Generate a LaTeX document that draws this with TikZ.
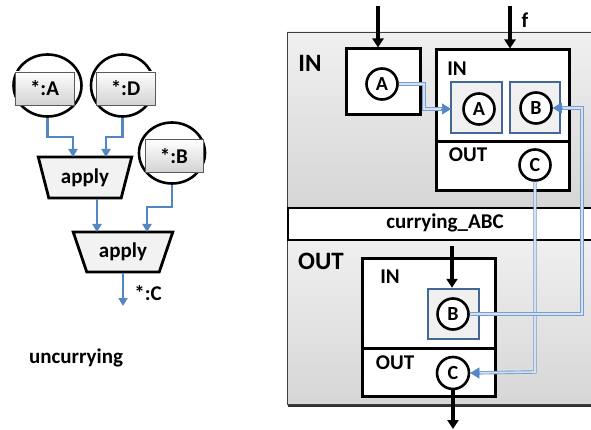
\documentclass[tikz,border=0pt]{standalone}
\usepackage{fontspec}
\setmainfont{Carlito}
\usetikzlibrary{arrows.meta,shapes.geometric,calc}
\definecolor{lineblue}{RGB}{84,134,196}
\definecolor{boxblue}{RGB}{68,104,150}
\begin{document}
\begin{tikzpicture}[x=1pt,y=-1pt,
  txt/.style={font=\bfseries\fontsize{21}{21}\selectfont, inner sep=0pt},
  bigtxt/.style={font=\bfseries\fontsize{25}{25}\selectfont, inner sep=0pt},
  ell/.style={ellipse, draw=black, line width=2.6pt, inner sep=0pt},
  tag/.style={draw=gray!70!black, line width=0.8pt, top color=white, bottom color=gray!35, inner sep=0pt,
     font=\bfseries\fontsize{21}{21}\selectfont},
  trap/.style={trapezium, trapezium stretches=true, shape border rotate=180, draw=black, line width=2.8pt,
     fill=gray!10, inner sep=1pt, font=\bfseries\fontsize{21}{21}\selectfont},
  barrowl/.style={draw=lineblue, line width=2.8pt, -{Triangle[length=8pt,width=9pt]}},
  frame/.style={draw=black, line width=3pt, fill=white, inner sep=0pt},
  circ/.style={circle, draw=black, line width=2.6pt, fill=white, minimum size=31pt, inner sep=0pt,
     font=\bfseries\fontsize{20}{20}\selectfont},
  inbox/.style={draw=boxblue, line width=2.5pt, fill=gray!12, minimum width=51pt, minimum height=51pt, inner sep=0pt},
  karrow/.style={draw=black, line width=3.3pt, -{Triangle[length=9pt,width=11pt]}},
  dbl/.style={draw=lineblue!80, line width=0.9pt, double=white!75!lineblue, double distance=1.6pt},
  tip/.style={draw=lineblue, fill=lineblue, line width=0.6pt, -{Triangle[length=9pt,width=11pt]}}
]
\clip (0,0) rectangle (591,430);
\fill[white] (0,0) rectangle (591,430);

% ---------------- left: uncurrying ----------------
\node[ell, minimum width=68pt, minimum height=62pt] (eA) at (47.5,85.5) {};
\node[tag, minimum width=59pt, minimum height=33pt] (tA) at (44.5,88.5) {*:A};
\node[ell, minimum width=63pt, minimum height=62pt] (eD) at (122.5,85.5) {};
\node[tag, minimum width=59pt, minimum height=33pt] (tD) at (125.5,88.5) {*:D};
\node[ell, minimum width=66pt, minimum height=61pt] (eB) at (172,153) {};
\node[tag, minimum width=58pt, minimum height=33pt] (tB) at (174,156) {*:B};

\node[trap, minimum width=94pt, minimum height=41pt, trapezium left angle=70, trapezium right angle=70] (ap1) at (85,177.5) {apply};
\node[trap, minimum width=100pt, minimum height=40pt, trapezium left angle=65, trapezium right angle=65] (ap2) at (123,252) {apply};

\coordinate (ap1a) at (73,157);
\coordinate (ap1b) at (106,157);
\coordinate (ap2a) at (97,232);
\coordinate (ap2b) at (147,232);
\coordinate (cout) at (123,306);

\draw[barrowl] (eA.south) -- (47.5,137) -- (73,137) -- (ap1a);
\draw[barrowl] (eD.south) -- (122.5,137) -- (106,137) -- (ap1b);
\draw[barrowl] (ap1.south -| ap2a) -- (ap2a);
\draw[barrowl] (eB.south) -- (172,207) -- (147,207) -- (ap2b);
\draw[barrowl] (ap2.south -| cout) -- (cout);

\node[txt] (lc) at (148,293) {*:C};
\node[txt] (unc) at (76,358) {uncurrying};

% ---------------- right: currying_ABC ----------------
\fill[gray!60, opacity=0.5] (289,34) rectangle (600,407);
\shade[top color=gray!12, bottom color=gray!32] (287,32) rectangle (600,207);
\shade[top color=gray!12, bottom color=gray!32] (287,239) rectangle (600,404);
\draw[gray!50!black, line width=0.8pt] (600,32) -- (287,32) -- (287,404) -- (600,404);
\draw[black!80, line width=2pt] (600,405.5) -- (288,405.5);
\node[frame, line width=2.4pt, minimum width=313pt, minimum height=32pt, anchor=north west] (band) at (287,207) {};
\node[txt] (bandlbl) at (445,223) {currying\_ABC};

\node[bigtxt] (lin) at (310,63) {IN};
\node[bigtxt] (lout) at (321,261) {OUT};

% small box A
\node[frame, minimum width=74pt, minimum height=66pt] (boxA) at (383,82) {};
\node[circ] (cA) at (382,84) {A};
\coordinate (topA) at (378,6);
\draw[karrow] (topA) -- (topA |- boxA.north);

% function box f
\node[frame, minimum width=133pt, minimum height=141pt] (boxF) at (502.5,120.5) {};
\draw[black, line width=3pt] (boxF.west |- 0,142) -- (boxF.east |- 0,142);
\node[txt] (fin) at (457,69) {IN};
\node[txt] (fout) at (468,155) {OUT};
\node[inbox] (ibA) at (476.5,107.5) {};
\node[circ] (fA) at (479,109) {A};
\node[inbox, minimum width=50pt] (ibB) at (535,107.5) {};
\node[circ] (fB) at (536,108) {B};
\node[circ] (fC) at (535,165) {C};
\coordinate (topF) at (510,6);
\draw[karrow] (topF) -- (topF |- boxF.north);
\node[txt] (flbl) at (525,20) {f};

% result box
\node[frame, minimum width=133pt, minimum height=138pt] (boxR) at (428.5,327) {};
\draw[black, line width=3pt] (boxR.west |- 0,348) -- (boxR.east |- 0,348);
\node[txt] (rin) at (390,277) {IN};
\node[txt] (rout) at (395,363) {OUT};
\node[inbox, minimum height=50pt] (ibB2) at (453.5,314) {};
\node[circ] (rB) at (453,314) {B};
\node[circ, minimum size=32pt] (rC) at (453,373) {C};
\coordinate (topR) at (452,246);
\draw[karrow] (topR) -- (topR |- ibB2.north);
\coordinate (botR) at (453,429);
\draw[karrow] (rC.south) -- (botR);

% blue double connectors
\coordinate (t1) at (451,109);
\draw[dbl, shorten >=8pt] (cA.east) -- (424,84) -- (424,109) -- (t1);
\draw[tip] (441,109) -- (t1);

\coordinate (t2) at (469,373);
\draw[dbl, shorten >=8pt] (fC.south) -- (535,372) -- (t2);
\draw[tip] (479,373) -- (rC.east);

\draw[dbl, shorten >=8pt] (rB.east) -- (582,314) -- (582,108) -- (fB.east);
\draw[tip] (562,108) -- (fB.east);
\end{tikzpicture}
\end{document}
